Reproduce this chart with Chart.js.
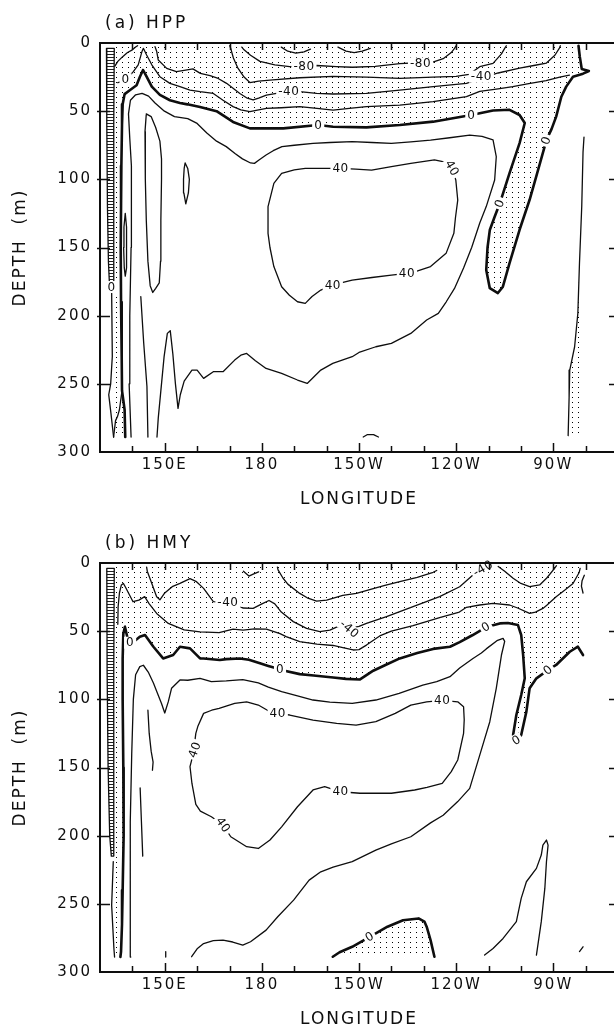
<!DOCTYPE html>
<html>
<head>
<meta charset="utf-8">
<script src="https://cdn.jsdelivr.net/npm/chart.js@4.4.1/dist/chart.umd.min.js"></script>
<style>
html, body { margin: 0; padding: 0; background: #fff; overflow: hidden; width: 614px; height: 1028px; }
.panel { position: absolute; left: 0; width: 640px; height: 520px; }
</style>
</head>
<body>
<div class="panel" style="top:0"><canvas id="hpp" width="640" height="520"></canvas></div>
<div class="panel" style="top:520px"><canvas id="hmy" width="640" height="520"></canvas></div>
<script>
// axes
const lonMin = 130, lonMax = 290;
const depthMin = 0, depthMax = 300;
const lonTickValues = [150, 180, 210, 240, 270];
const lonTickLabels = ['150E', '180', '150W', '120W', '90W'];
const depthTickStep = 50;

// ---- (a) HPP : contour lines as [longitude (deg E), depth (m)] ----
const hppArcA = [[186,3],[188,6],[190.5,7.5],[193,6.5],[195,4.5]];
const hppArcB = [[203.5,3],[206,6],[208.5,7],[211,6],[213.5,4]];
const hppMinus80 = [[173.8,3],[174.5,5],[176.5,9],[179.4,13.5],[184,16],[188.6,17.4],[193,17],[197,16.5],[203,17.3],[208,17.8],[215,17.2],[222.6,15.2],[228,14.5],[232.8,14],[236,11.5],[238.5,7],[239.5,4],[240,2]];
const hppMinus40a = [[170.1,2],[170.5,5],[171.2,11],[172.5,18],[174.5,25],[176.3,29],[179,28],[183.4,27],[191.7,25.5],[201.9,24.5],[212.4,25],[222.6,26],[232.8,25],[240,24.5],[244,23],[247.3,17.4],[251.4,14.9],[254,8],[255,3.9],[255.5,2]];
const hppMinus40b = [[147,2.7],[147.5,6],[148,12.5],[150.6,18.6],[153.6,21],[156,20],[158.7,19],[161,22.3],[164,24],[166.5,26],[169.1,29.6],[171,33],[173.2,37],[175.5,40.5],[177.3,41.8],[179,40.5],[181.4,38.2],[184.5,37],[188.1,35.7],[191.7,35.7],[196.9,37],[202,37.4],[212.3,37],[222.6,34.5],[232.9,32],[243.2,29.6],[248.8,25],[253,22],[259.6,18.4],[264,16.5],[267.9,14.7],[270.5,9],[271.9,3.7],[272.2,2]];
const hppMinus20 = [[135.5,29],[136.7,28.4],[138.2,26.6],[140.3,21],[141.8,16],[143,6],[143.4,3.9],[144.4,8.8],[146,16],[148.5,24.7],[151.6,29.6],[154.7,32],[157.8,34.5],[160.9,35.7],[165,37],[168,42],[171.1,46.7],[173.5,49],[176.3,50.4],[179,49],[181.4,48],[186,47.5],[191.7,46.7],[197,48],[202,49.2],[207,48],[212.3,46.7],[222.6,45.5],[232.9,43],[243.2,39.4],[247.3,35.5],[253.5,33.5],[257.5,32],[262,30],[267.8,27.6],[272,25],[275,23.5]];
const hppZero = [[277.8,2],[278.2,10],[278.8,19],[281,20.5],[279.2,22.5],[276.1,24.7],[274,32],[272.5,39.4],[270.9,54],[269.5,63],[267.9,71.2],[265.3,93.2],[262.7,115],[259.6,137],[256.5,161.5],[254.4,179],[252.9,183.4],[250.4,179.8],[249.3,166.5],[249.7,150],[250.4,137.2],[251.9,127.4],[253.5,117.6],[256.5,95.5],[259.6,73.4],[261.2,58.7],[259.6,52.8],[256.5,49],[251.4,49.5],[244.7,52.8],[232.9,57.7],[222.6,60.2],[212.3,61.9],[202,61.4],[197.4,60.2],[186.6,62.6],[176.3,62.6],[171.1,57.9],[166,50],[160.9,47],[157,45],[154.7,44],[151.6,42],[148.5,38],[146,32],[144.4,24.7],[143.3,19.8],[142.3,25],[141.3,31],[139.3,34.5],[137.6,37.5],[137,45],[136.8,60],[136.6,90],[136.5,120],[136.4,150],[136.5,190],[136.7,230],[136.8,255],[137.6,269],[137.8,289]];
const hppPlus20 = [[139.6,289],[139,250],[139.2,200],[139.6,150],[139.8,110],[139.6,90],[139.2,70],[138.8,52],[139.4,42],[141,38],[143,37],[145,39],[147,44],[149.9,50],[153,54],[157.1,55.5],[160,59],[163,66],[166,72],[169,76],[171.7,81],[174,85],[176.5,88],[177.7,88.3],[179,86],[181.3,82.2],[183.5,79],[186.2,76],[190,75],[195.8,73.6],[201,73],[207.9,72.4],[214,73],[220,73.6],[226,72.5],[232.1,71.2],[238,69.5],[244.2,67.5],[248,68.5],[251.4,71],[252.4,83.4],[251.9,100.5],[249.3,120],[247.3,132],[244.8,150],[242.3,165],[239.5,180],[236.9,190],[234.5,198.3],[230.9,203.2],[226,213],[220,220.3],[215.2,222.8],[210,227],[207.9,230.1],[201.9,235],[198.2,239.9],[194,249.7],[191,247.2],[186.1,242.4],[181.3,238.7],[178,233],[175.3,227.7],[173.5,229],[171.6,232.6],[168,241.1],[165,241.1],[162,246],[160,240],[158.4,240],[156,248],[154.8,258],[154.1,268],[153.3,250],[152.5,228],[151.7,211],[150.8,213],[149.8,230],[148.8,255],[148,275],[147.6,289]];
const hppPlus40 = [[186.1,95.6],[190,93],[193.4,91.9],[198,92],[204.3,91.9],[209,92.5],[213.9,93.2],[220,90.7],[226,88.3],[233.3,85.8],[237,87.5],[238.7,91.9],[239.9,100.5],[240.5,115.2],[239.8,128],[239.3,139.6],[236.9,154.3],[232.1,164],[227.2,167.8],[224.8,169],[220,170.2],[214,172],[207.9,173.9],[201.9,177.5],[198.2,181.2],[195.5,186],[193.4,191],[191,189.8],[188.5,185],[186.1,178.8],[183.7,164],[182.5,150],[181.9,139.6],[181.9,120],[183.7,103],[186.1,95.6]];
const hppTongue = [[144.3,52],[143.9,65],[144,100],[144.3,130],[144.8,160],[145.5,178],[146.3,183],[147.2,180],[148.3,176],[148.7,160],[148.8,130],[149,100],[149,85],[148.5,72],[147.2,62],[145.8,54],[144.3,52]];
const hppSmallOval = [[156.3,88],[157.1,92],[157.6,100],[157.3,110],[156.5,118],[155.9,110],[155.8,100],[156,92],[156.3,88]];
const hppWallOval = [[137.8,125],[138.2,135],[138.3,150],[138.1,165],[137.8,171],[137.5,165],[137.3,150],[137.4,135],[137.8,125]];
const hppWallTop = [[134.6,17],[135.5,13.5],[137,10],[138.5,7],[140,5],[141,3],[141.6,2]];
const hppWallDeep = [[142.6,186],[143.5,220],[144.5,252],[144.8,289]];
const hppWallSpike = [[134.2,289],[134.8,277],[135.4,274],[136,269],[136.8,255]];
const hppBandTail = [[133.6,183],[133.8,230],[133.3,250],[132.7,258],[133.4,272],[134.2,289]];
const hppEast = [[279.5,69],[279.2,80],[278.8,120],[278.1,161.6],[277.6,198.3],[276.6,222.8],[275.1,239.9],[274.9,260],[274.6,288]];
const hppDeepArc = [[211.3,289],[212.5,287.3],[214.5,287.3],[216,289]];
const hppBand = [[132,4],[132.1,60],[132.3,120],[132.6,160],[132.9,176],[134.1,176],[134.2,120],[134.3,60],[134.4,4],[132,4]];
const hppEastStrip = [[278.1,161.6],[277.6,198.3],[276.6,222.8],[275.1,239.9],[274.9,260],[274.6,288],[279,288],[279,161.6]];
const hppLabels = [
  [193,17.4,'-80',0],[229,15,'-80',0],
  [188.3,35.7,'-40',0],[247.8,24.7,'-40',0],
  [197.4,60.2,'0',0],[244.7,52.8,'0',0],[267.8,71.5,'0',-70],[253.5,117.6,'0',-70],[137.9,26.7,'0',0],[133.6,179,'0',0],
  [204.3,91.9,'40',0],[238.7,91.9,'40',60],[224.8,169,'40',0],[201.9,177.5,'40',0]
];

// ---- (b) HMY ----
const hmyVee = [[174.3,6],[176,9.6],[177.5,8],[179,6.5]];
const hmyBowl = [[184.8,3],[185,5],[186.5,11],[188,15.5],[191.7,22.3],[194,25.5],[196.9,28],[200,27.3],[205,23.8],[209.2,22.3],[214.4,18.8],[218,16.5],[222.6,13.7],[228,10.5],[232.9,6.8],[234,5.5]];
const hmyArcEast = [[253,2.5],[255,6],[257.6,11.2],[260,15],[262.7,17.4],[265.8,16.1],[268,11],[270.4,3.9],[271,2]];
const hmyMinus40 = [[144.4,3],[144.6,6],[146,15],[147.5,24.7],[148.5,27],[150,22],[152.3,17.4],[154.7,15],[157.8,11.5],[159.8,13.7],[162,18.6],[165,28.4],[169.5,29],[174.1,33],[177.3,33.3],[180,30],[182.2,27.5],[184,30],[186,36],[189.7,43],[193.8,48],[197.9,50.4],[201,49.2],[204.1,46],[207,48],[210,46.5],[212.3,44.3],[218.5,39.4],[226.7,32],[234.9,24.7],[241.1,17.4],[245.2,8.8],[248.3,3.5],[249.5,2]];
const hmyMinus20 = [[278.3,4],[278,7],[276.1,15],[273.5,20],[270.9,24.7],[268,31],[266.8,33.3],[264.5,36],[262.7,37],[259,33],[256.5,30.8],[251.4,29.6],[247.3,30.8],[243.2,32.5],[241,36],[234.9,40],[226.7,46],[220,50],[216.4,53.5],[212.3,60.2],[210,63.5],[208.2,63.8],[205,62],[202,60.5],[197,59.5],[191.7,57.7],[187.5,54],[185.6,51.8],[181.4,48.5],[177.7,48.3],[174.2,49.2],[171.1,48.5],[166.8,51],[160.9,50.5],[156,49],[151.1,44.3],[147.5,37],[145.1,29.6],[143.8,24.7],[142,27.2],[140.2,28.4],[138.8,22],[137.8,17.4],[137.2,15],[136.6,16.1],[136,22],[135.6,32],[135.5,45]];
const hmyZero = [[279.2,67.5],[277.6,61.4],[275.1,65.1],[270.9,74.8],[268.4,78.5],[264.8,84.6],[262.7,91.9],[261.7,109],[260.1,126.2],[258.6,130],[257.6,126.2],[258.6,111.5],[260.1,96.8],[261.2,84.6],[260.7,67.5],[260.1,52.8],[259.1,45.5],[256,44],[253.5,44.3],[249.3,47],[245,53],[241.1,58],[238.1,61.4],[232.9,63],[228,66],[222.6,70],[218,75],[214.4,79],[210.2,85.5],[206,85],[202,84],[196,82.5],[191.7,81.5],[187,79],[185.6,78],[182,75.5],[179.4,73.6],[176,71],[173.2,70],[169,70.5],[167,71.2],[162,70],[160.9,70],[157.8,62.6],[154.7,61.4],[152.6,67.5],[149.5,70],[146.5,61.4],[143.9,52.8],[142.3,54.1],[140.3,58],[139.3,58.5],[138.5,55],[137.7,46.7],[137.2,52],[137,70],[137,100],[137.2,150],[137.3,200],[137,240],[136.8,265],[136.5,285],[136.3,289]];
const hmyPlus20 = [[139.5,289],[139.3,240],[139.4,190],[139.8,140],[140.3,100],[141,82],[142.3,76],[143.4,75],[144.9,80],[146.5,88],[147.5,94],[149,103],[150,110],[151.1,101.7],[152.1,91.9],[154.7,85.8],[157.1,86],[160.9,84.6],[164.4,87],[169,86.5],[174.1,85.5],[178.9,88],[182,91],[186.1,94.4],[191,97.5],[195.8,100.5],[201,102],[207.9,103],[215.2,100.5],[222.4,95.6],[229.7,89.5],[234,87],[238.1,83.4],[241.1,77],[245.2,70],[247.8,66],[249.3,63],[252.6,57],[254.5,55.3],[255,57.5],[254,67.5],[252.4,91.9],[250.4,116.4],[247.3,140.9],[244.2,165.3],[240.5,175],[236,185],[232.1,190.6],[226,200.8],[220,206],[215.2,210.6],[207.9,219.1],[202,223],[198.2,226.5],[194.6,232.6],[189.8,247.3],[184.9,259.5],[181.3,269.3],[176.5,277.8],[174.1,280.3],[171,278],[168,276.6],[165,277],[162,279.1],[160,283],[158.3,288.8]];
const hmyPlus40 = [[160.2,120],[162,110.3],[164.5,108],[166.8,106.6],[171.6,103],[175.3,101.8],[178.9,104.2],[182.5,109.1],[185,110.5],[188.6,111.5],[195.8,115.2],[203.1,117.6],[209.1,118.9],[215.2,116.4],[221.2,110.3],[226,104.2],[230.9,101.8],[235.7,100.8],[240.5,101.8],[242.3,105.4],[242.5,115],[242.3,125],[240.5,144.5],[238.5,153],[235.7,161.7],[231,164.5],[227.2,166.5],[220,168.9],[210.3,168.9],[204.3,167.8],[199.4,164.1],[195.8,166.5],[191,178.8],[186.1,193.5],[182.5,203.2],[178.9,209.4],[175.3,208.1],[170.4,200.8],[168,192.2],[164.4,186.1],[161,182],[159.6,177],[158.4,161.7],[157.8,149.4],[158.8,140],[159.6,125],[160.2,120]];
const hmyDeepZero = [[201.9,288.8],[204,285.5],[207.9,281.5],[213.3,274.2],[218.8,266.8],[223.6,262],[228.4,260.7],[230.2,263],[230.9,266.8],[232.1,276.6],[233.3,288.8]];
const hmyDeepEast = [[248.8,287.6],[251.4,282.7],[254.5,275.4],[258.6,263.1],[260.1,246],[261.7,233.8],[264.8,224],[266.3,214.2],[266.8,206.9],[267.9,203.2],[268.4,206.9],[267.9,219.1],[267.4,238.7],[266.3,263.1],[264.8,287.6]];
const hmyWallA = [[144.8,108],[145.2,125],[145.8,138],[146.4,146],[146.2,152]];
const hmyWallB = [[142.4,165],[142.8,190],[143.2,215]];
const hmyBandTail = [[134.1,219],[133.6,251],[134.3,283],[134.5,289]];
const hmyTickBits = [[150.3,285],[150.3,289]];
const hmyEastBit = [[278.1,285],[279.2,281.5]];
const hmyParen = [[279.6,9],[278.9,13],[278.7,17],[279.2,22]];
const hmyBand = [[132.1,4],[132.2,80],[132.5,150],[133,200],[133.5,215],[134.2,215],[134.2,150],[134.3,80],[134.4,4],[132.1,4]];
const hmyLabels = [
  [169.5,29,'-40',0],[207,48.5,'-40',40],[248.3,4,'-40',-30],
  [139.3,58.5,'0',0],[185.6,78,'0',0],[249.2,47,'0',-30],[268.4,78.5,'0',-40],[258.6,130,'0',-30],[213.3,274.2,'0',-30],
  [184.9,110.3,'40',0],[235.7,100.5,'40',0],[204.3,167.8,'40',0],[159.3,137,'40',-70],[168,192.2,'40',55]
];

const ink = '#0e0e0e';
const FONT = '"DejaVu Sans", "Liberation Sans", sans-serif';

function toPts(arr) {
  return arr.map(p => ({ x: p[0], y: p[1] }));
}

function contour(arr, width) {
  return {
    data: toPts(arr),
    showLine: true,
    borderColor: ink,
    borderWidth: width || 1.3,
    pointRadius: 0,
    fill: false,
    tension: 0,
    borderJoinStyle: 'round',
    borderCapStyle: 'round'
  };
}

function makePattern(ctx, w, h, draw) {
  const c = document.createElement('canvas');
  c.width = w; c.height = h;
  draw(c.getContext('2d'));
  return ctx.createPattern(c, 'repeat');
}

function tracePoly(ctx, sx, sy, arr) {
  ctx.beginPath();
  arr.forEach((p, i) => {
    const px = sx.getPixelForValue(p[0]);
    const py = sy.getPixelForValue(p[1]);
    if (i === 0) ctx.moveTo(px, py); else ctx.lineTo(px, py);
  });
  ctx.closePath();
}

function panelPlugin(spec) {
  return {
    id: 'panel_' + spec.key,
    beforeDraw(chart) {
      chart.ctx.letterSpacing = '2px';
    },
    beforeDatasetsDraw(chart) {
      const { ctx, chartArea: a, scales: { x, y } } = chart;
      ctx.save();
      ctx.beginPath();
      ctx.rect(a.left, a.top, a.right - a.left, a.bottom - a.top);
      ctx.clip();
      const dots = makePattern(ctx, 6, 5, g => { g.fillStyle = '#000'; g.fillRect(2, 2, 1, 1); });
      spec.stipple.forEach(r => {
        tracePoly(ctx, x, y, r);
        ctx.fillStyle = dots;
        ctx.fill();
      });
      // ladder hatch inside the narrow western band
      const hatch = makePattern(ctx, 4, 3, g => { g.fillStyle = '#222'; g.fillRect(0, 0, 4, 1); });
      tracePoly(ctx, x, y, spec.band);
      ctx.fillStyle = hatch;
      ctx.fill();
      ctx.restore();
    },
    afterDatasetsDraw(chart) {
      const { ctx, scales: { x, y } } = chart;
      spec.labels.forEach(l => {
        const px = x.getPixelForValue(l[0]);
        const py = y.getPixelForValue(l[1]);
        ctx.save();
        ctx.translate(px, py);
        ctx.rotate(l[3] * Math.PI / 180);
        ctx.font = '12px ' + FONT;
        ctx.letterSpacing = '0.5px';
        const w = ctx.measureText(l[2]).width;
        ctx.fillStyle = '#fff';
        ctx.fillRect(-w / 2 - 2, -6, w + 4, 12);
        ctx.fillStyle = ink;
        ctx.textAlign = 'center';
        ctx.textBaseline = 'middle';
        ctx.fillText(l[2], 0, 0.5);
        ctx.restore();
      });
    },
    afterDraw(chart) {
      const { ctx, chartArea: a, scales: { x, y } } = chart;
      ctx.save();
      ctx.strokeStyle = ink;
      ctx.lineWidth = 1.5;
      ctx.beginPath();
      x.ticks.forEach(t => {
        if (t.value <= lonMin || t.value >= lonMax) return;
        const px = Math.round(x.getPixelForValue(t.value)) + 0.5;
        const major = lonTickValues.includes(t.value);
        ctx.moveTo(px, a.bottom); ctx.lineTo(px, a.bottom - (major ? 9 : 6));
        ctx.moveTo(px, a.top); ctx.lineTo(px, a.top + 7);
      });
      y.ticks.forEach(t => {
        if (t.value <= depthMin || t.value >= depthMax) return;
        const py = Math.round(y.getPixelForValue(t.value)) + 0.5;
        ctx.moveTo(a.left - 3, py); ctx.lineTo(a.left + 10, py);
        ctx.moveTo(a.right, py); ctx.lineTo(a.right - 9, py);
      });
      ctx.stroke();
      ctx.lineWidth = 2;
      ctx.strokeRect(a.left, a.top, a.right - a.left, a.bottom - a.top);
      // panel caption
      ctx.font = '17px ' + FONT;
      ctx.letterSpacing = '3px';
      ctx.fillStyle = ink;
      ctx.textAlign = 'left';
      ctx.textBaseline = 'middle';
      ctx.fillText(spec.title, 105, 24);
      ctx.restore();
    }
  };
}

function makePanel(spec) {
  const datasets = spec.thin.map(l => contour(l, 1.3))
    .concat(spec.thick.map(l => contour(l, 2.6)));
  return new Chart(document.getElementById(spec.key), {
    type: 'scatter',
    data: { datasets: datasets },
    options: {
      responsive: false,
      animation: false,
      events: [],
      layout: { padding: { top: 43, right: 22, left: 0, bottom: 0 } },
      plugins: { legend: { display: false }, tooltip: { enabled: false } },
      scales: {
        x: {
          type: 'linear',
          min: lonMin, max: lonMax,
          grid: { display: false, drawTicks: false },
          border: { display: false },
          ticks: {
            stepSize: 10, autoSkip: false, maxRotation: 0, padding: 4,
            color: ink, font: { family: FONT, size: 15 },
            callback: v => {
              const i = lonTickValues.indexOf(v);
              return i >= 0 ? lonTickLabels[i] : '';
            }
          },
          title: {
            display: true, text: 'LONGITUDE', color: ink,
            font: { family: FONT, size: 17 }, padding: { top: 0, bottom: 10 }
          },
          afterFit: s => { s.height = 68; }
        },
        y: {
          type: 'linear',
          min: depthMin, max: depthMax, reverse: true,
          grid: { display: false, drawTicks: false },
          border: { display: false },
          ticks: {
            stepSize: depthTickStep, padding: 8,
            color: ink, font: { family: FONT, size: 15 }
          },
          title: {
            display: true, text: 'DEPTH  (m)', color: ink,
            font: { family: FONT, size: 17 }, padding: { top: 10, bottom: 0 }
          },
          afterFit: s => { s.width = 100; }
        }
      }
    },
    plugins: [panelPlugin(spec)]
  });
}

makePanel({
  key: 'hpp',
  title: '(a) HPP',
  thin: [hppArcA, hppArcB, hppMinus80, hppMinus40a, hppMinus40b, hppMinus20, hppPlus20, hppPlus40,
         hppTongue, hppSmallOval, hppWallOval, hppWallTop, hppWallDeep, hppWallSpike, hppBandTail,
         hppEast, hppDeepArc, hppBand],
  thick: [hppZero],
  band: hppBand,
  stipple: [
    [[134.4,0],[277.8,0]].concat(hppZero).concat([[134.4,289]]),
    hppEastStrip
  ],
  labels: hppLabels
});

makePanel({
  key: 'hmy',
  title: '(b) HMY',
  thin: [hmyVee, hmyBowl, hmyArcEast, hmyMinus40, hmyMinus20, hmyPlus20, hmyPlus40, hmyDeepEast,
         hmyWallA, hmyWallB, hmyBandTail, hmyTickBits, hmyEastBit, hmyParen, hmyBand],
  thick: [hmyZero, hmyDeepZero],
  band: hmyBand,
  stipple: [
    [[134.4,0],[278.7,0],[278.7,58]].concat(hmyZero).concat([[134.4,289]]),
    hmyDeepZero.concat([[233.3,289],[201.9,289]])
  ],
  labels: hmyLabels
});
</script>
</body>
</html>
